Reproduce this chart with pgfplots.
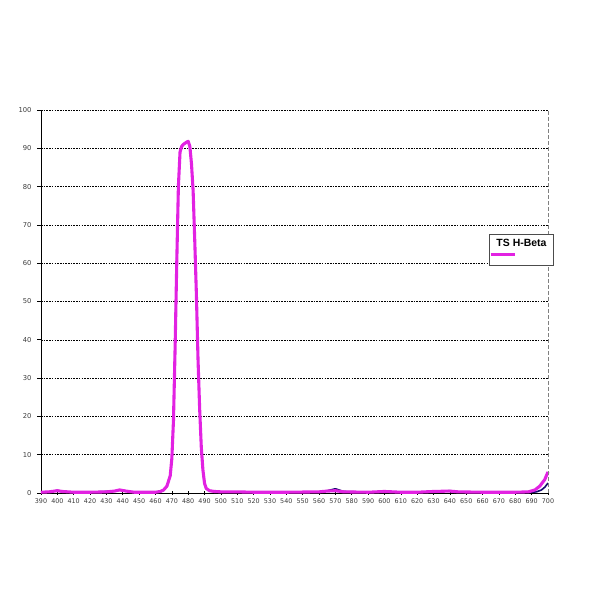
\documentclass[border=0pt]{standalone}
\usepackage{pgfplots}
\pgfplotsset{compat=1.18}
\usepackage{fontspec}
\setmainfont{DejaVu Sans}
\newfontfamily\arialfont{Liberation Sans}
\definecolor{hbpink}{RGB}{226,34,226}
\definecolor{hbnavy}{RGB}{20,10,110}
\definecolor{ticktext}{RGB}{60,60,60}
\begin{document}
\begin{tikzpicture}[x=1bp,y=1bp]
\path[use as bounding box] (0,0) rectangle (600,600);
\begin{axis}[
  at={(41bp,107bp)}, anchor=south west,
  scale only axis, width=507bp, height=383bp,
  xmin=390, xmax=700, ymin=0, ymax=100,
  xtick={390,400,...,700}, ytick={0,10,...,100},
  axis lines*=left,
  axis line style={black, line width=0.9pt},
  x tick style={black, line width=0.6pt}, y tick style={black, line width=0.6pt},
  xtick align=center, ytick align=outside,
  major tick length=4bp,
  ymajorgrids, major grid style={black, line width=0.45pt, dash pattern=on 1.6bp off 1.1bp},
  /pgf/number format/assume math mode=true,
  ticklabel style={font=\fontsize{6.4}{8}\selectfont, text=ticktext},
  xticklabel style={yshift=-2.5bp, inner sep=1bp},
  yticklabel style={xshift=-2bp, font=\fontsize{6.8}{8}\selectfont},
  legend style={at={(0.884,0.676)}, anchor=north west, draw=black!70, line width=0.6pt,
    font=\arialfont\fontsize{10.5}{12}\selectfont\bfseries, inner xsep=5bp, inner ysep=3bp},
  legend image code/.code={\path[draw=none] (0bp,-19bp) -- (0bp,4bp); \draw[#1,overlay] (-4bp,-11bp) -- (20bp,-11bp);},
  legend cell align=left,
  after end axis/.code={\draw[gray, line width=0.8pt, dash pattern=on 4bp off 2bp] (rel axis cs:1,0) -- (rel axis cs:1,1);},
  clip=false,
]
\addplot[hbnavy, line width=1.6pt, line join=round, forget plot] coordinates {
(390,0.2)(395,0.3)(400,0.7)(403,0.4)(410,0.2)(420,0.2)(430,0.4)(435,0.5)(438,0.8)(442,0.5)(447,0.2)(455,0.2)(460,0.2)(463,0.3)(465,0.7)(467,1.8)(469,4.5)(470,9)(471,19)(472,39)(473,61)(474,80)(475,89)(476,90.5)(477,91)(478,91.3)(479,91.6)(480,91.8)(481,90.5)(482,86)(483,79)(484,66)(485,52)(486,35)(487,22)(488,12)(489,6)(490,2.5)(491,1.2)(493,0.6)(496,0.4)(500,0.3)(510,0.3)(520,0.2)(540,0.2)(560,0.3)(565,0.6)(570,1.1)(575,0.4)(590,0.2)(600,0.4)(610,0.2)(620,0.2)(630,0.4)(640,0.6)(645,0.3)(660,0.2)(680,0.2)(690,0.2)(693,0.3)(696,0.8)(698,1.5)(700,2.6)
};
\addplot[hbpink, line width=3.1pt, line join=round] coordinates {
(390,0.2)(395,0.3)(400,0.6)(403,0.4)(410,0.2)(420,0.2)(430,0.3)(435,0.5)(438,0.8)(442,0.5)(447,0.2)(455,0.2)(460,0.2)(463,0.4)(465,0.8)(467,1.8)(469,4.5)(470,9)(471,19)(472,38)(473,60)(474,80)(475,89)(476,90.5)(477,91)(478,91.3)(479,91.6)(480,91.8)(481,90.5)(482,86)(483,79)(484,66)(485,52)(486,35)(487,22)(488,12)(489,6)(490,2.5)(491,1.2)(493,0.6)(496,0.4)(500,0.3)(510,0.3)(520,0.2)(540,0.2)(560,0.3)(565,0.5)(570,0.6)(575,0.3)(590,0.2)(600,0.4)(610,0.2)(620,0.2)(630,0.4)(640,0.5)(645,0.3)(660,0.2)(680,0.2)(688,0.3)(692,0.8)(695,1.8)(698,3.5)(700,5.5)
};
\addlegendentry{TS H-Beta\hspace{5bp}}
\end{axis}
\end{tikzpicture}
\end{document}
